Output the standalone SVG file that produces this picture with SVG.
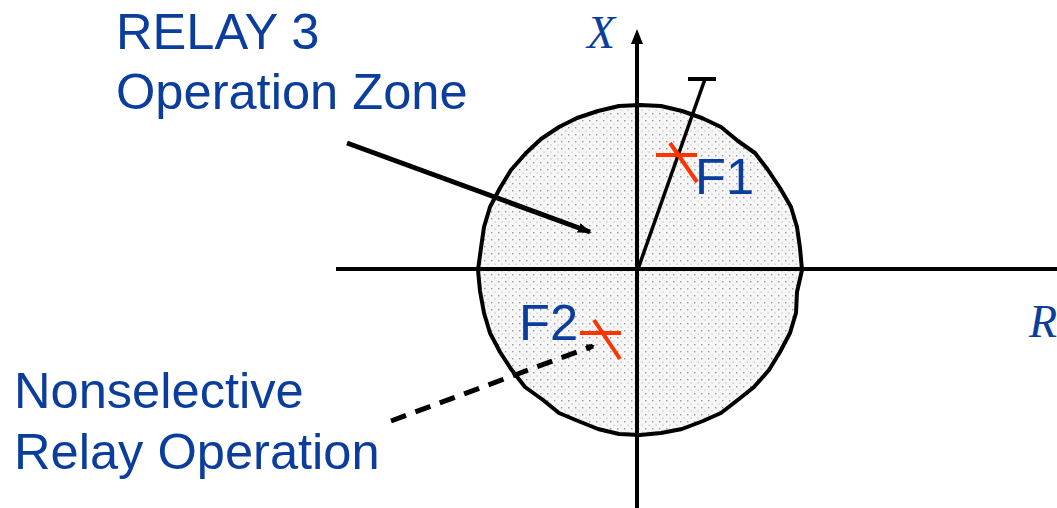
<svg xmlns="http://www.w3.org/2000/svg" width="1057" height="508" viewBox="0 0 1057 508">
<style>
.lbl{font-family:"Liberation Sans",Arial,sans-serif;font-size:50.6px;fill:#0a3d9c}
.ax{font-family:"Liberation Serif","Times New Roman",serif;font-style:italic;font-size:46px;fill:#0a3d9c}
.blk{stroke:#000;fill:none}
.red{stroke:#ff3300;stroke-width:4;fill:none}
</style>
<defs>
<pattern id="dots" width="7" height="7" patternUnits="userSpaceOnUse">
<rect width="7" height="7" fill="#f6f6f6"/>
<rect x="1" y="1" width="1.4" height="1.4" fill="#9a9a9a"/>
<rect x="4.5" y="4.5" width="1.2" height="1.2" fill="#bdbdbd"/>
</pattern>
<marker id="ah" markerWidth="8" markerHeight="8" refX="6" refY="4" orient="auto" markerUnits="userSpaceOnUse" viewBox="0 0 8 8">
<path d="M0,0 L8,4 L0,8 z" fill="#000"/>
</marker>
<marker id="ah2" markerWidth="14" markerHeight="10" refX="12" refY="5" orient="auto" markerUnits="userSpaceOnUse" viewBox="0 0 14 10">
<path d="M0,0 L14,5 L0,10 z" fill="#000"/>
</marker>
</defs>
<g id="zone">
<path d="M802,270 L797,292 L796,313 L790,333 L780,352 L769,370 L754,387 L739,399 L721,413 L703,421 L682,429 L661,433 L640,435 L619,434 L598,429 L578,421 L559,413 L543,400 L525,387 L511,369 L500,352 L490,333 L484,313 L480,291 L478,270 L481,248 L484,227 L490,207 L500,188 L511,170 L526,153 L541,139 L559,127 L577,118 L598,111 L619,106 L640,105 L661,106 L682,111 L702,118 L721,127 L738,141 L755,153 L768,170 L780,188 L791,207 L797,227 L800,248 Z" fill="url(#dots)" stroke="#000" stroke-width="4" stroke-linejoin="round"/>
</g>
<g id="axes">
<line class="blk" x1="336" y1="269" x2="1057" y2="269" stroke-width="4"/>
<line class="blk" x1="637" y1="508" x2="637" y2="40" stroke-width="4"/>
<path d="M631,44 L637,29 L643,44 z" fill="#000"/>
<text class="ax" x="587" y="48">X</text>
<text class="ax" x="1029" y="337">R</text>
</g>
<g id="relay-reach">
<line class="blk" x1="638" y1="269" x2="705" y2="79" stroke-width="3.5"/>
<line class="blk" x1="688" y1="79" x2="716" y2="79" stroke-width="4"/>
</g>
<g id="F1">
<line class="red" x1="656" y1="155" x2="697" y2="155"/>
<line class="red" x1="670" y1="143" x2="697" y2="182"/>
<text class="lbl" x="695" y="194">F1</text>
</g>
<g id="F2">
<line class="red" x1="580" y1="333" x2="621" y2="333"/>
<line class="red" x1="594" y1="320" x2="620" y2="359"/>
<text class="lbl" x="519" y="340">F2</text>
</g>
<g id="label-zone">
<text class="lbl" x="116" y="49">RELAY 3</text>
<text class="lbl" x="116" y="109">Operation Zone</text>
</g>
<g id="label-nonsel">
<text class="lbl" x="14" y="408">Nonselective</text>
<text class="lbl" x="14" y="469">Relay Operation</text>
</g>
<g id="connectors">
<line x1="347" y1="143" x2="590" y2="232" stroke="#000" stroke-width="5" marker-end="url(#ah2)"/>
<line x1="391" y1="421" x2="593" y2="346" stroke="#000" stroke-width="5" stroke-dasharray="16,10" marker-end="url(#ah)"/>
</g>
</svg>
